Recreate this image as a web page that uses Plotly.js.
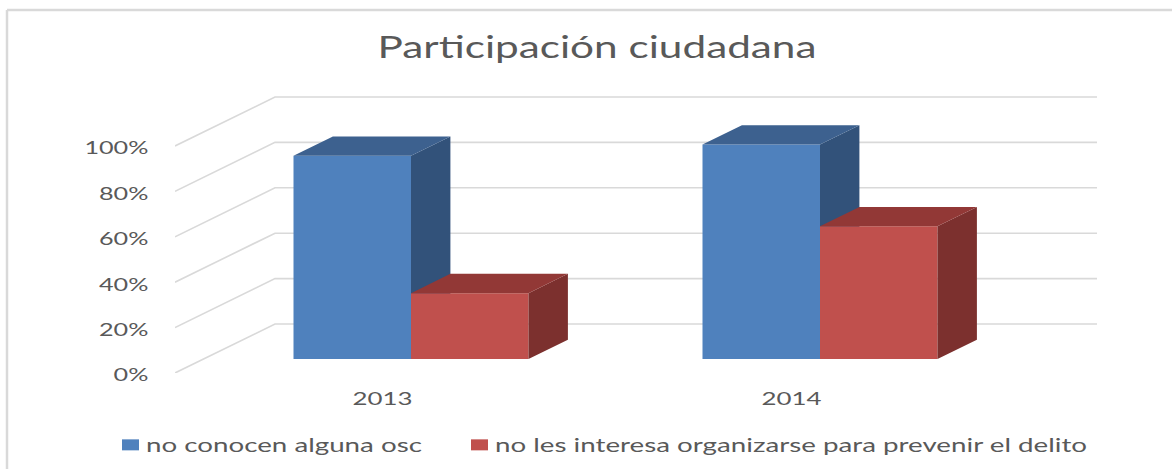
<!DOCTYPE html>
<html><head><meta charset="utf-8">
<script src="https://cdn.plot.ly/plotly-3.0.1.min.js"></script>
<style>html,body{margin:0;padding:0;background:#fff}#c{width:1172px;height:469px}</style>
</head><body><div id="c"></div>
<script>
// ---- data ----
const categories = ['2013', '2014'];
const seriesA = [89.5, 94.5];
const seriesB = [29, 58.5];
const seriesAName = 'no conocen alguna osc';
const seriesBName = 'no les interesa organizarse para prevenir el delito';
const tickValues = [0, 20, 40, 60, 80, 100];
const tickLabels = ['0%', '20%', '40%', '60%', '80%', '100%'];
const titleText = 'Participación ciudadana';

// ---- oblique projection, in axis units ----
const pxPerCat = 409, pxPerPct = 2.27;
const depthX = 100 / pxPerCat, depthY = 49 / pxPerPct;   // floor depth, front to back
const barWidth = 117.5 / pxPerCat;
const d0 = 0.286, d1 = 0.68;                             // bar depth span
const xMin = -207.4 / pxPerCat, xMax = 714.6 / pxPerCat, yMax = 277 / pxPerPct;
const P = (x, v, d) => [x + depthX * d, v + depthY * d];
const xs = categories.map((_, i) => i);

function poly(list) {           // list of closed polygons -> x/y with gaps
  const X = [], Y = [];
  list.forEach(p => { p.forEach(q => { X.push(q[0]); Y.push(q[1]); }); X.push(p[0][0]); Y.push(p[0][1]); X.push(null); Y.push(null); });
  return {x: X, y: Y};
}
function faces(vals, left, kind) {
  return poly(vals.map((v, i) => {
    const a = xs[i] + left, b = a + barWidth;
    return kind === 'top'
      ? [P(a, v, d0), P(b, v, d0), P(b, v, d1), P(a, v, d1)]
      : [P(b, 0, d0), P(b, v, d0), P(b, v, d1), P(b, 0, d1)];
  }));
}
function faceTrace(vals, left, color, kind, z) {
  return Object.assign(faces(vals, left, kind), {
    type: 'scatter', mode: 'lines', fill: 'toself', fillcolor: color,
    line: {width: 0, color: color}, showlegend: false, hoverinfo: 'skip', zorder: z, cliponaxis: false
  });
}
function frontTrace(vals, left, color, name, z) {
  return {
    type: 'bar', name: name, zorder: z,
    x: xs.map(i => P(i + left + barWidth / 2, 0, d0)[0]),
    y: vals, base: vals.map(() => P(0, 0, d0)[1]), width: barWidth,
    marker: {color: color, line: {width: 0}}, hoverinfo: 'skip'
  };
}
// wall and side-wall gridlines
const gx = [], gy = [];
tickValues.forEach(v => {
  const a = P(xMin, v, 0), b = P(xMin, v, 1), c = [xMax, b[1]];
  gx.push(a[0], b[0], c[0], null); gy.push(a[1], b[1], c[1], null);
});
const traces = [
  {type: 'scatter', mode: 'lines', x: gx, y: gy, line: {color: '#d9d9d9', width: 1.6},
   showlegend: false, hoverinfo: 'skip', zorder: 0, cliponaxis: false},
  faceTrace(seriesA, -barWidth, '#32527a', 'side', 1),
  faceTrace(seriesA, -barWidth, '#3d618f', 'top', 1),
  frontTrace(seriesA, -barWidth, '#4f81bd', seriesAName, 1),
  faceTrace(seriesB, 0, '#7c302e', 'side', 2),
  faceTrace(seriesB, 0, '#923836', 'top', 2),
  frontTrace(seriesB, 0, '#c0504d', seriesBName, 2)
];
const W = 1172, H = 469, mL = 175, mR = 75, mT = 96, mB = 96, pw = W - mL - mR, ph = H - mT - mB;
const fx = px => (px - mL) / pw, fy = py => 1 - (py - mT) / ph;
const frame = {color: '#d9d9d9', width: 2.5};
const txt = '#595959', fam = 'Lato, sans-serif';
const layout = {
  width: W, height: H, paper_bgcolor: '#fff', plot_bgcolor: 'rgba(0,0,0,0)',
  margin: {l: mL, r: mR, t: mT, b: mB}, barmode: 'overlay', showlegend: true,
  title: {text: titleText, x: 597 / W, xanchor: 'center', y: 1 - 47 / H, yanchor: 'middle', font: {family: fam, size: 31, color: txt}},
  xaxis: {range: [xMin, xMax], tickmode: 'array', tickvals: xs, ticktext: categories, showgrid: false, zeroline: false, showline: false,
    ticks: 'outside', ticklen: 9, tickcolor: 'rgba(0,0,0,0)', tickfont: {family: fam, size: 18, color: txt}},
  yaxis: {range: [0, yMax], tickmode: 'array', tickvals: tickValues, ticktext: tickLabels, showgrid: false, zeroline: false, showline: false,
    ticks: 'outside', ticklen: 22, ticklabelshift: 2, tickcolor: 'rgba(0,0,0,0)', tickfont: {family: fam, size: 18, color: txt}},
  legend: {orientation: 'h', xref: 'container', yref: 'container', x: 106 / W, xanchor: 'left', y: 1 - 445 / H, yanchor: 'middle',
    entrywidth: 304, entrywidthmode: 'pixels', traceorder: 'normal', font: {family: fam, size: 19, color: txt}, bgcolor: 'rgba(0,0,0,0)'},
  shapes: [
    {type: 'line', xref: 'paper', yref: 'paper', x0: fx(7), x1: fx(W), y0: fy(10), y1: fy(10), line: frame},
    {type: 'line', xref: 'paper', yref: 'paper', x0: fx(7), x1: fx(7), y0: fy(10), y1: fy(H), line: frame}
  ]
};
function stretch(nodes, factor) {
  nodes.forEach(n => {
    n.setAttribute('textLength', n.getComputedTextLength() * factor);
    n.setAttribute('lengthAdjust', 'spacingAndGlyphs');
  });
}
Plotly.newPlot('c', traces, layout, {displayModeBar: false, staticPlot: true}).then(gd => {
  const q = s => Array.from(gd.querySelectorAll(s));
  const t = q('.gtitle'); stretch(t, 439 / t[0].getComputedTextLength());
  const yt = q('.ytick text'); stretch(yt, 64 / yt.find(n => n.textContent === '100%').getComputedTextLength());
  const xt = q('.xtick text'); stretch(xt, 60 / xt[0].getComputedTextLength());
  const lt = q('.legendtext'); stretch(lt, 592 / lt[1].getComputedTextLength());
  q('.legend .scrollbox').forEach(n => n.removeAttribute('clip-path'));
  q('.legend').forEach(n => n.removeAttribute('clip-path'));
  // legend swatches a little wider than the default square
  q('.legendpoints path').forEach(n => n.setAttribute('d', 'M13,5.5H-4V-5.5H13Z'));
});
</script></body></html>
